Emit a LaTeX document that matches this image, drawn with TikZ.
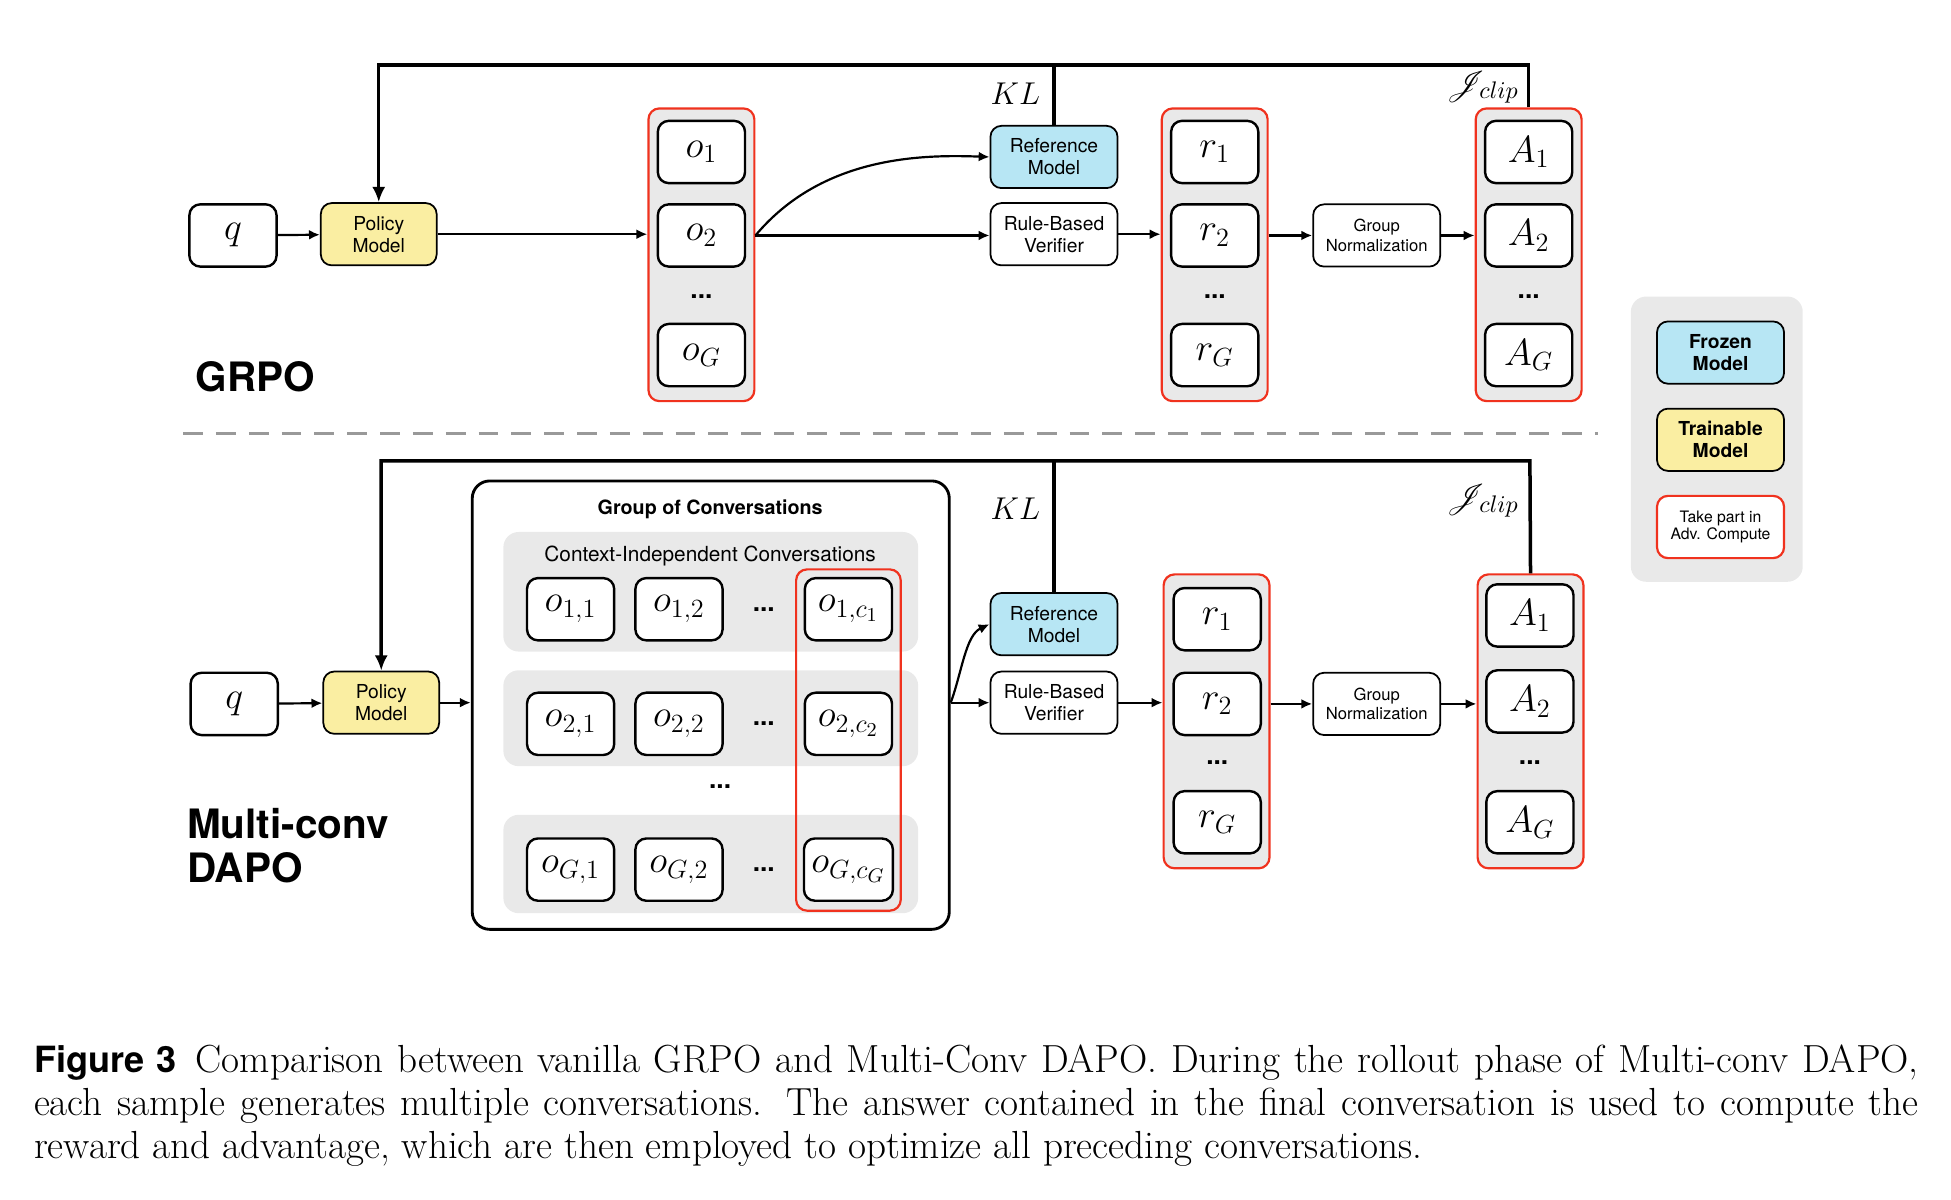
\documentclass[tikz,border=0pt]{standalone}
\usepackage{fontspec}
\usepackage{mathrsfs}
\setsansfont{TeX Gyre Heros}
\usetikzlibrary{arrows.meta}

\definecolor{trainfill}{RGB}{250,238,162}
\definecolor{frozenfill}{RGB}{183,230,244}
\definecolor{grpfill}{RGB}{233,233,233}
\definecolor{advred}{RGB}{240,50,30}

\tikzset{
  box/.style={draw, line width=1.1pt, rounded corners=5pt, fill=white,
    minimum width=1.4cm, minimum height=1cm, font=\fontsize{17.5}{18}\selectfont},
  wbox/.style={draw, line width=0.8pt, rounded corners=5pt, fill=white, align=center,
    minimum width=2.04cm, minimum height=1cm, inner sep=1pt,
    font=\sffamily\fontsize{8.8}{10}\selectfont},
  frozen/.style={wbox, fill=frozenfill},
  trainable/.style={wbox, fill=trainfill},
  advgrp/.style={draw=advred, line width=1pt, rounded corners=5pt, fill=grpfill,
    minimum width=1.7cm},
  rowgrp/.style={fill=grpfill, rounded corners=7pt, minimum width=6.66cm},
  dots/.style={font=\sffamily\bfseries\fontsize{12}{12}\selectfont},
  arr/.style={-{Latex[length=5pt,width=4.5pt]}, line width=1pt},
  fb/.style={-{Latex[length=7pt,width=6pt]}, line width=1.6pt},
  lbl/.style={font=\fontsize{15}{15}\selectfont},
  title/.style={font=\sffamily\bfseries\fontsize{18.5}{20}\selectfont, align=left, anchor=west}
}

\begin{document}
\begin{tikzpicture}[x=0.02cm, y=-0.02cm]
\useasboundingbox (0,0) rectangle (1566,963);

% ---------- GRPO ----------
\node[box] (q) at (187,189) {$q$};
\node[trainable] (policy) at (304,188) [minimum width=1.86cm] {Policy\\Model};
\node[advgrp, minimum height=4.7cm] (outs) at (563,204.5) {};
\node[box] (o1) at (563,122) {$o_1$};
\node[box] (o2) at (563,189) {$o_2$};
\node[dots] (od) at (563,238) {...};
\node[box] (oG) at (563,285) {$o_G$};
\node[frozen] (ref) at (846,126) {Reference\\Model};
\node[wbox] (ver) at (846,188) {Rule-Based\\Verifier};
\node[advgrp, minimum height=4.7cm] (rews) at (975,204.5) {};
\node[box] (r1) at (975,122) {$r_1$};
\node[box] (r2) at (975,189) {$r_2$};
\node[dots] (rd) at (975,238) {...};
\node[box] (rG) at (975,285) {$r_G$};
\node[wbox, font=\sffamily\fontsize{7.6}{9}\selectfont] (norm) at (1105,189) {Group\\Normalization};
\node[advgrp, minimum height=4.7cm] (advs) at (1227,204.5) {};
\node[box] (A1) at (1227,122) {$A_1$};
\node[box] (A2) at (1227,189) {$A_2$};
\node[dots] (Ad) at (1227,238) {...};
\node[box] (AG) at (1227,285) {$A_G$};
\node[lbl] (kl) at (815,75) {$KL$};
\node[lbl] (jc) at (1190,70) {$\mathscr{J}_{clip}$};
\node[title] (grpo) at (151,302) {GRPO};

\draw[arr] (q) -- (policy);
\draw[arr] (policy.east) -- (outs.west |- policy.east);
\draw[arr] (outs.east |- o2) -- (ver.west |- o2);
\draw[arr] (outs.east |- o2) .. controls (660,125) and (740,124) .. (ref.west);
\draw[arr] (ver) -- (rews.west |- ver);
\draw[arr] (rews.east |- norm) -- (norm);
\draw[arr] (norm) -- (advs.west |- norm);
\draw[fb] (advs.north) -- (1227,52) -- (304,52) -- (policy.north);
\draw[line width=1.6pt] (ref.north) -- (846,52);

% ---------- separator ----------
\draw[gray!80, line width=1.2pt, dash pattern=on 9pt off 6pt] (147,348) -- (1283,348);

% ---------- legend ----------
\node[fill=grpfill, rounded corners=7pt, minimum width=2.76cm, minimum height=4.58cm] (legend) at (1378,352.5) {};
\node[frozen] (lfrozen) at (1381,283) {\textbf{Frozen}\\\textbf{Model}};
\node[trainable] (ltrain) at (1381,353) {\textbf{Trainable}\\\textbf{Model}};
\node[wbox, draw=advred, line width=1pt, font=\sffamily\fontsize{7.2}{8}\selectfont] (ladv) at (1381,423) {Take part in\\Adv. Compute};

% ---------- Multi-conv DAPO ----------
\node[box] (q2) at (188,565) {$q$};
\node[trainable] (policy2) at (306,564) [minimum width=1.86cm] {Policy\\Model};
\node[draw, line width=1.3pt, rounded corners=8pt, minimum width=7.66cm, minimum height=7.2cm] (convs) at (570.5,566) {};
\node[font=\sffamily\bfseries\fontsize{9}{10}\selectfont] (convt) at (570,409) {Group of Conversations};
\node[rowgrp, minimum height=1.92cm] (row1) at (570.5,475) {};
\node[rowgrp, minimum height=1.54cm] (row2) at (570.5,576.5) {};
\node[rowgrp, minimum height=1.58cm] (row3) at (570.5,693.5) {};
\node[font=\sffamily\fontsize{9.5}{10}\selectfont] (ctxt) at (570,446) {Context-Independent Conversations};
\node[draw=advred, line width=1pt, rounded corners=5pt, minimum width=1.68cm, minimum height=5.48cm] (last) at (681,594) {};
\foreach \i/\y/\s in {1/489/1, 2/581/2, G/698/G} {
  \node[box] (o\i1) at (458,\y) {$o_{\i,1}$};
  \node[box] (o\i2) at (545,\y) {$o_{\i,2}$};
  \node[dots] (o\i d) at (613,\y) {...};
  \node[box] (o\i c) at (681,\y) {$o_{\i,c_{\s}}$};
}
\node[dots] (rowd) at (578,631) {...};
\node[frozen] (ref2) at (846,501) {Reference\\Model};
\node[wbox] (ver2) at (846,564) {Rule-Based\\Verifier};
\node[advgrp, minimum height=4.72cm] (rews2) at (976.5,579) {};
\node[box] (r21) at (977,497) {$r_1$};
\node[box] (r22) at (977,565) {$r_2$};
\node[dots] (r2d) at (977,612) {...};
\node[box] (r2G) at (977,660) {$r_G$};
\node[wbox, font=\sffamily\fontsize{7.6}{9}\selectfont] (norm2) at (1105,565) {Group\\Normalization};
\node[advgrp, minimum height=4.72cm] (advs2) at (1228.5,579) {};
\node[box] (A21) at (1228,494) {$A_1$};
\node[box] (A22) at (1228,563) {$A_2$};
\node[dots] (A2d) at (1228,612) {...};
\node[box] (A2G) at (1228,660) {$A_G$};
\node[lbl] (kl2) at (815,408) {$KL$};
\node[lbl] (jc2) at (1190,402) {$\mathscr{J}_{clip}$};
\node[title] (dapo) at (144,679) {Multi-conv\\DAPO};

\draw[arr] (q2) -- (policy2);
\draw[arr] (policy2) -- (convs.west |- policy2);
\draw[arr] (convs.east |- ver2) -- (ver2);
\draw[arr] (convs.east |- ver2) .. controls (772,540) and (775,510) .. (ref2.west);
\draw[arr] (ver2) -- (rews2.west |- ver2);
\draw[arr] (rews2.east |- norm2) -- (norm2);
\draw[arr] (norm2) -- (advs2.west |- norm2);
\draw[fb] (advs2.north) -- (1228,370) -- (306,370) -- (policy2.north);
\draw[line width=1.6pt] (ref2.north) -- (846,370);

% ---------- caption ----------
\node[anchor=north west, text width=30.26cm, align=justify, inner sep=0pt,
  font=\fontsize{17.9}{19.8}\selectfont] (cap) at (27,838)
  {{\sffamily\bfseries\fontsize{16.5}{19.8}\selectfont Figure 3}\hspace{0.5em}Comparison between vanilla GRPO and Multi-Conv DAPO. During the rollout phase of Multi-conv DAPO, each sample generates multiple conversations. The answer contained in the final conversation is used to compute the reward and advantage, which are then employed to optimize all preceding conversations.};
\end{tikzpicture}
\end{document}
